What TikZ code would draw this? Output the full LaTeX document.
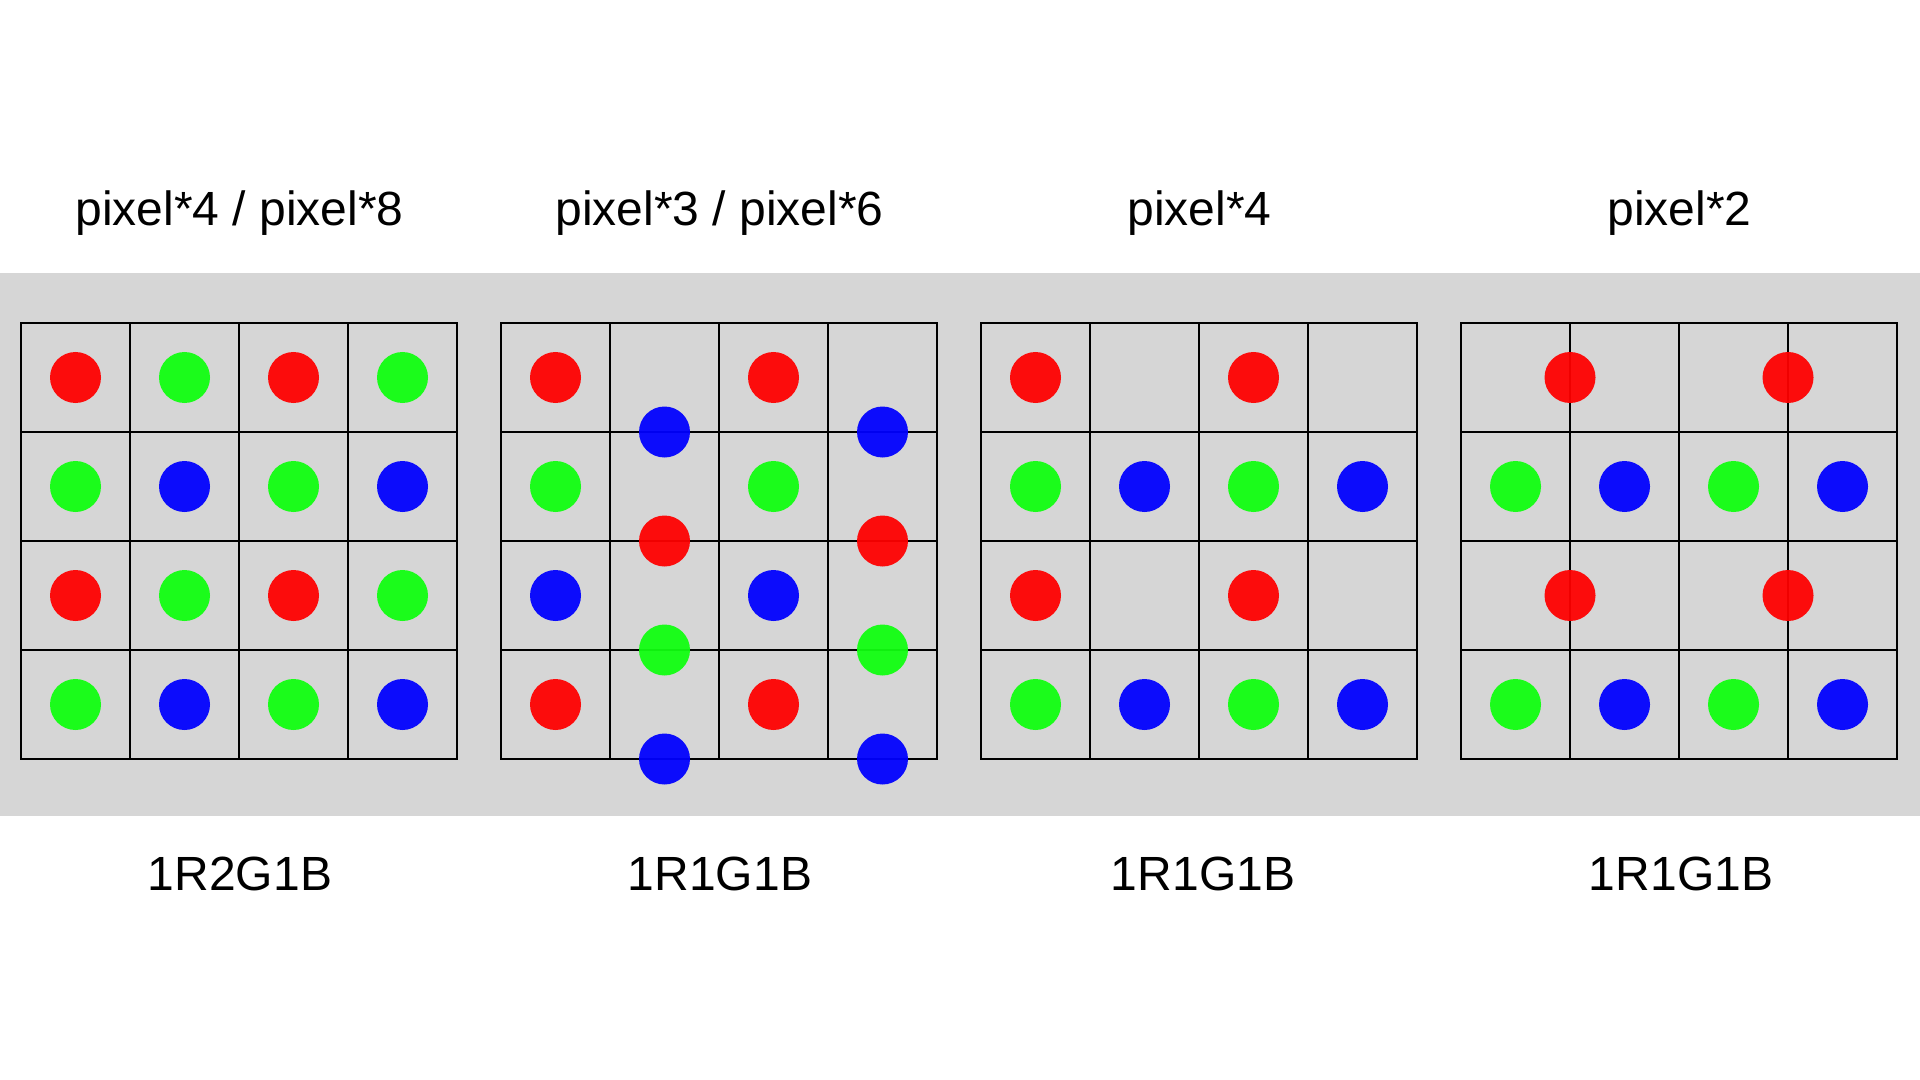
\documentclass[tikz,border=0pt]{standalone}
\usepackage{fontspec}
\setmainfont{Liberation Sans}
\usetikzlibrary{positioning}
\definecolor{bandgray}{RGB}{214,214,214}
\definecolor{subred}{RGB}{255,0,0}
\definecolor{subgreen}{RGB}{16,255,16}
\definecolor{subblue}{RGB}{0,0,255}

\begin{document}
\begin{tikzpicture}[
		x=0.5pt, y=-0.5pt,
		cell/.style={draw=black, line width=1.2pt, line join=miter},
		dot/.style={fill=#1, fill opacity=0.94},
		captext/.style={font=\fontsize{24}{28}\selectfont, anchor=base, inner sep=0pt}
		]
		
		% page and grey band
		\useasboundingbox (0,0) rectangle (1920,1080);
		\fill[bandgray] (0,273) rectangle (1920,816);
		
		% four panels of 4x4 cells
		\foreach \p in {0,...,3}{
			\foreach \c in {0,...,3}{
				\foreach \r in {0,...,3}{
					\draw[cell] (21+480*\p+109*\c,323+109*\r) rectangle ++(109,109);
				}
			}
		}
		
		% panel 1: RGBG
		\begin{scope}[shift={(21,323)}]
			\foreach \c/\r/\col in {0/0/subred, 1/0/subgreen, 2/0/subred, 3/0/subgreen,
				0/1/subgreen, 1/1/subblue, 2/1/subgreen, 3/1/subblue,
				0/2/subred, 1/2/subgreen, 2/2/subred, 3/2/subgreen,
				0/3/subgreen, 1/3/subblue, 2/3/subgreen, 3/3/subblue}
			\fill[dot=\col] (109*\c+54.5,109*\r+54.5) circle[radius=12.75pt];
		\end{scope}
		
		% panel 2: delta, shifted half a row
		\begin{scope}[shift={(501,323)}]
			\foreach \c in {0,2}{
				\foreach \r/\col in {0/subred, 1/subgreen, 2/subblue, 3/subred}
				\fill[dot=\col] (109*\c+54.5,109*\r+54.5) circle[radius=12.75pt];
				\foreach \r/\col in {1/subblue, 2/subred, 3/subgreen, 4/subblue}
				\fill[dot=\col] (109*\c+163.5,109*\r) circle[radius=12.75pt];
			}
		\end{scope}
		
		% panel 3: red on every other cell
		\begin{scope}[shift={(981,323)}]
			\foreach \r in {0,2}{
				\foreach \c in {0,2}
				\fill[dot=subred] (109*\c+54.5,109*\r+54.5) circle[radius=12.75pt];
			}
			\foreach \r in {1,3}{
				\foreach \c/\col in {0/subgreen, 1/subblue, 2/subgreen, 3/subblue}
				\fill[dot=\col] (109*\c+54.5,109*\r+54.5) circle[radius=12.75pt];
			}
		\end{scope}
		
		% panel 4: red shared on the cell edge
		\begin{scope}[shift={(1461,323)}]
			\foreach \r in {0,2}{
				\foreach \c in {1,3}
				\fill[dot=subred] (109*\c,109*\r+54.5) circle[radius=12.75pt];
			}
			\foreach \r in {1,3}{
				\foreach \c/\col in {0/subgreen, 1/subblue, 2/subgreen, 3/subblue}
				\fill[dot=\col] (109*\c+54.5,109*\r+54.5) circle[radius=12.75pt];
			}
		\end{scope}
		
		% titles
		\node[captext] (title1) at (239.5,226) {pixel*4 / pixel*8};
		\node[captext] (title2) at (719.5,226) {pixel*3 / pixel*6};
		\node[captext] (title3) at (1199.5,226) {pixel*4};
		\node[captext] (title4) at (1679.5,226) {pixel*2};
		
		% arrangement names
		\node[captext] (type1) at (240,890) {1R2G1B};
		\node[captext] (type2) at (720,890) {1R1G1B};
		\node[captext] (type3) at (1203,890) {1R1G1B};
		\node[captext] (type4) at (1681,890) {1R1G1B};
		
	\end{tikzpicture}
\end{document}
